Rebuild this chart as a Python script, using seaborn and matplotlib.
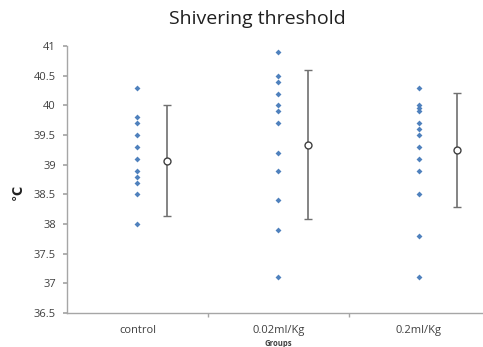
import numpy as np
import pandas as pd
import matplotlib
matplotlib.use("Agg")
import matplotlib.pyplot as plt
import seaborn as sns

# values
groups = ["control", "0.02ml/Kg", "0.2ml/Kg"]
control = [40.3, 39.8, 39.7, 39.5, 39.3, 39.1, 38.9, 38.8, 38.7, 38.5, 38.0]
low_dose = [40.9, 40.5, 40.4, 40.2, 40.0, 39.9, 39.7, 39.2, 38.9, 38.4, 37.9, 37.1]
high_dose = [40.3, 40.0, 39.95, 39.9, 39.7, 39.6, 39.5, 39.3, 39.1, 38.9, 38.5, 37.8, 37.1]
group_means = [39.07, 39.34, 39.25]
group_sd = [0.93, 1.25, 0.96]

df = pd.DataFrame({
    "group": [groups[0]] * len(control) + [groups[1]] * len(low_dose) + [groups[2]] * len(high_dose),
    "temp": control + low_dose + high_dose,
})

sns.set_theme(style="white")
plt.rcParams["font.family"] = ["Open Sans", "DejaVu Sans"]

fig = plt.figure(figsize=(4.83, 3.47), dpi=100)
ax = fig.add_axes([0.139, 0.098, 0.874, 0.769])

sns.stripplot(data=df, x="group", y="temp", order=groups, jitter=False,
              marker="D", size=3, color="#4f81bd", linewidth=0, ax=ax)

# mean +/- sd, drawn slightly to the right of each group
xpos = np.arange(len(groups)) + np.array([0.21, 0.21, 0.27])
ax.errorbar(xpos, group_means, yerr=group_sd, fmt="o", mfc="white", mec="#404040",
            ms=5, mew=1, ecolor="#707070", elinewidth=1.2, capsize=3, capthick=1)

ax.set_xlim(-0.5, 2.5)
ax.set_ylim(36.5, 41)
ax.set_yticks(np.arange(36.5, 41.01, 0.5))
ax.set_yticklabels(["36.5", "37", "37.5", "38", "38.5", "39", "39.5", "40", "40.5", "41"])
ax.set_xticks([0, 1, 2])
ax.set_xticks([0.5, 1.5], minor=True)

for s in ["top", "right"]:
    ax.spines[s].set_visible(False)
for s in ["left", "bottom"]:
    ax.spines[s].set_color("#a6a6a6")
    ax.spines[s].set_linewidth(1)

ax.tick_params(axis="y", which="major", left=True, length=3, color="#a6a6a6",
               labelsize=8, labelcolor="#404040", pad=5)
ax.tick_params(axis="x", which="major", bottom=False, labelsize=8, labelcolor="#404040", pad=3)
ax.tick_params(axis="x", which="minor", bottom=True, length=3, color="#a6a6a6")

ax.set_xlabel("Groups", fontsize=5.5, fontweight="bold", color="#404040")
ax.xaxis.set_label_coords(0.5, -0.098)
ax.set_ylabel("℃", fontsize=9, fontweight="bold", color="#202020", rotation=90,
              family=["DejaVu Sans"])
ax.yaxis.set_label_coords(-0.1, 0.45)

fig.text(0.532, 0.945, "Shivering threshold", ha="center", va="center",
         fontsize=14, color="#202020")

fig.savefig("out.png", dpi=100)
